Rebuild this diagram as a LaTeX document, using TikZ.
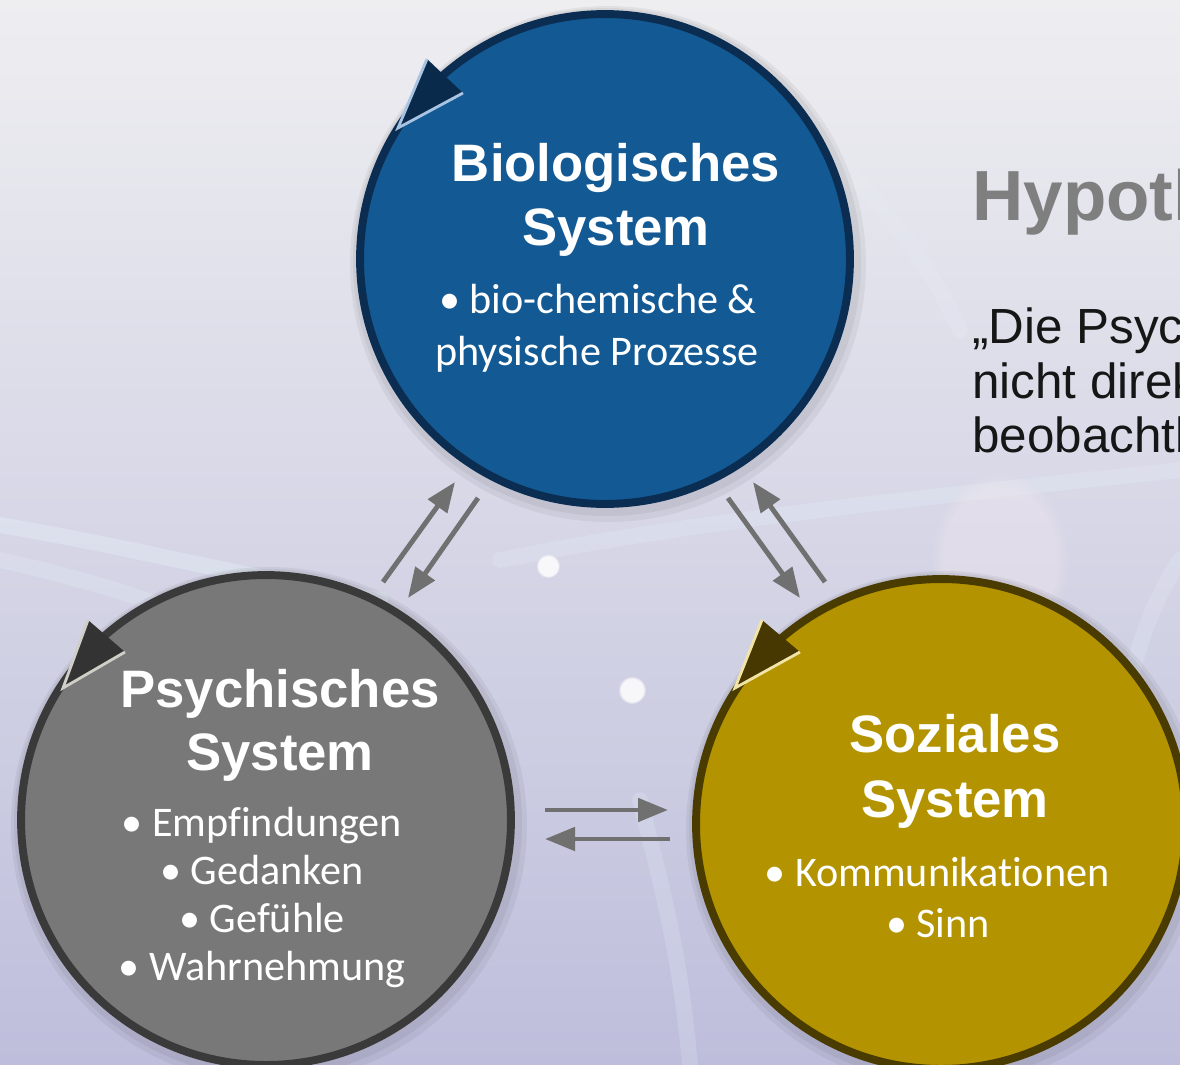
\documentclass[tikz,border=0pt]{standalone}
\usepackage{fontspec}
\setmainfont{Liberation Sans}
\newfontfamily\bodyfont[Ligatures=NoCommon]{Carlito}
\usetikzlibrary{arrows.meta,fadings}

\definecolor{bioFill}{HTML}{135A95}
\definecolor{bioEdge}{HTML}{0B2D52}
\definecolor{bioTip}{HTML}{0A2A4C}
\definecolor{bioGlow}{HTML}{A8C4E2}
\definecolor{psyFill}{HTML}{787878}
\definecolor{psyEdge}{HTML}{3A3A3A}
\definecolor{psyTip}{HTML}{333333}
\definecolor{psyGlow}{HTML}{CFCFC8}
\definecolor{sozFill}{HTML}{B39400}
\definecolor{sozEdge}{HTML}{4A3B00}
\definecolor{sozTip}{HTML}{463800}
\definecolor{sozGlow}{HTML}{F2E4A6}
\definecolor{linkGray}{HTML}{707070}
\definecolor{headGray}{HTML}{7F7F7F}
\definecolor{bodyInk}{HTML}{161616}
\definecolor{bgTop}{HTML}{EEEEF1}
\definecolor{bgMid}{HTML}{DCDEE9}
\definecolor{bgBot}{HTML}{BEBEDC}
\definecolor{strandTint}{HTML}{E8F4FA}
\definecolor{rosyGlow}{HTML}{F6EAF0}

\begin{document}
\begin{tikzpicture}[x=0.02cm,y=-0.02cm,
  system/.style={circle, inner sep=0pt, minimum size=9.8cm, line width=4.5pt},
  halo/.style={fill=black, opacity=0.05},
  title/.style={anchor=base, text=white, font=\fontsize{30}{36}\selectfont\bfseries},
  item/.style={anchor=base, text=white, font=\bodyfont\fontsize{24}{28}\selectfont},
  quote/.style={anchor=base west, inner sep=0pt, text=bodyInk, font=\fontsize{28.1}{33}\selectfont},
  link/.style={draw=linkGray, line width=2.8pt, -{Triangle[length=0.6cm,width=0.46cm]}},
  strand/.style={strandTint, line width=9pt, opacity=0.35, line cap=round},
]
\useasboundingbox (0,0) rectangle (1180,1065);
\clip (0,0) rectangle (1180,1065);

% backdrop with faint network strands
\shade[top color=bgTop, middle color=bgMid, bottom color=bgBot] (0,0) rectangle (1180,1065);
\fill[rosyGlow, opacity=0.35, path fading=circle with fuzzy edge 20 percent] (1000,560) ellipse (70 and 90);
\draw[strand] (0,525) .. controls (120,545) and (260,580) .. (380,600);
\draw[strand, opacity=0.22] (0,560) .. controls (90,580) and (150,600) .. (200,620);
\draw[strand, opacity=0.22] (500,560) .. controls (700,520) and (900,500) .. (1180,470);
\draw[strand, opacity=0.2] (640,800) .. controls (660,880) and (680,950) .. (690,1065);
\draw[strand, opacity=0.2] (1180,560) .. controls (1140,620) and (1120,700) .. (1120,780);
\draw[strand, opacity=0.15] (700,60) .. controls (800,120) and (900,200) .. (960,330);
\fill[white, opacity=0.85, path fading=circle with fuzzy edge 20 percent] (548,566) circle (12);
\fill[white, opacity=0.85, path fading=circle with fuzzy edge 20 percent] (632,690) circle (14);

% soft halos under the systems
\foreach \cx/\cy in {605/259, 266/820, 941/824} {
  \fill[halo] (\cx+2,\cy+3) circle (254);
  \fill[halo] (\cx+3,\cy+5) circle (258);
}

% the three systems
\node[system, fill=bioFill, draw=bioEdge] (bio) at (605,259) {};
\node[system, fill=psyFill, draw=psyEdge] (psy) at (266,820) {};
\node[system, fill=sozFill, draw=sozEdge] (soz) at (941,824) {};

% circulation tips on the rims
\fill[bioTip] (398,128) -- (427,59) -- (463,93) -- cycle;
\draw[bioGlow, line width=1.6pt, line join=miter] (427,59) -- (398,128) -- (463,93);
\fill[psyTip] (63,688) -- (88,620) -- (125,652) -- cycle;
\draw[psyGlow, line width=1.6pt, line join=miter] (88,620) -- (63,688) -- (125,652);
\fill[sozTip] (735,688) -- (762,620) -- (800,652) -- cycle;
\draw[sozGlow, line width=1.6pt, line join=miter] (762,620) -- (735,688) -- (800,652);

% texts in the circles
\node[title] (bioT1) at (616,181) {Biologisches};
\node[title] (bioT2) at (616,245) {System};
\node[item] (bioI1) at (598,313) {• bio-chemische \&};
\node[item] (bioI2) at (597,365) {physische Prozesse};

\node[title] (psyT1) at (280,707) {Psychisches};
\node[title] (psyT2) at (280,770) {System};
\node[item] (psyI1) at (262,836) {• Empfindungen};
\node[item] (psyI2) at (262,884) {• Gedanken};
\node[item] (psyI3) at (262,932) {• Gefühle};
\node[item] (psyI4) at (262,980) {• Wahrnehmung};

\node[title] (sozT1) at (955,752) {Soziales};
\node[title] (sozT2) at (955,817) {System};
\node[item] (sozI1) at (937,886) {• Kommunikationen};
\node[item] (sozI2) at (938,937) {• Sinn};

% exchange arrows between the systems
\coordinate (bpA) at (383,582); \coordinate (bpB) at (455,482);
\coordinate (bpC) at (478,498); \coordinate (bpD) at (408,598);
\coordinate (bsA) at (728,498); \coordinate (bsB) at (800,598);
\coordinate (bsC) at (825,582); \coordinate (bsD) at (753,482);
\coordinate (psA) at (545,810); \coordinate (psB) at (668,810);
\coordinate (psC) at (670,839); \coordinate (psD) at (545,839);
\draw[link] (bpA) -- (bpB);
\draw[link] (bpC) -- (bpD);
\draw[link] (bsA) -- (bsB);
\draw[link] (bsC) -- (bsD);
\draw[link] (psA) -- (psB);
\draw[link] (psC) -- (psD);

% heading and quote at the right
\node[anchor=base west, inner sep=0pt, text=headGray, font=\fontsize{40.4}{48}\selectfont\bfseries] (hyp) at (972,220) {Hypoth};
\node[quote] (q1) at (972,343) {„Die Psych};
\node[quote] (q2) at (972,398) {nicht direk};
\node[quote] (q3) at (972,452) {beobachtb};
\end{tikzpicture}
\end{document}
